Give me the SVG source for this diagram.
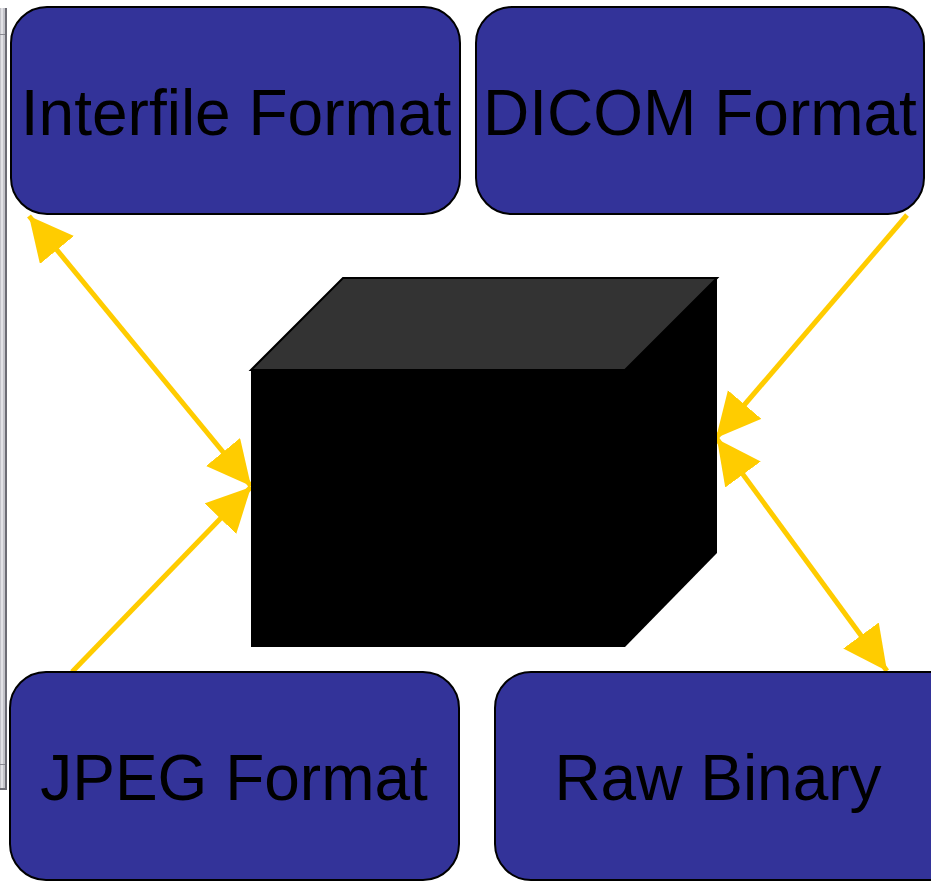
<svg xmlns="http://www.w3.org/2000/svg" width="931" height="882" viewBox="0 0 931 882">
  <style>
    .box { fill: #333399; stroke: #000000; stroke-width: 2; }
    .label { font-family: "Liberation Sans", Arial, sans-serif; font-size: 64px; fill: #000000; text-anchor: middle; }
    .link { stroke: #FFCC00; stroke-width: 5; fill: none; }
  </style>
  <defs>
    <marker id="head" markerUnits="userSpaceOnUse" markerWidth="46" markerHeight="46" refX="44" refY="22" orient="auto-start-reverse">
      <path d="M0,0 L44,22 L0,44 Z" fill="#FFCC00"/>
    </marker>
  </defs>

  <rect width="931" height="882" fill="#ffffff"/>

  <!-- window frame strip on the left edge -->
  <g id="frame">
    <rect x="0" y="8" width="7" height="782" fill="#c4c4ca"/>
    <rect x="1" y="8" width="2" height="782" fill="#e2e2e6"/>
    <rect x="5" y="8" width="2" height="782" fill="#6c6c74"/>
    <rect x="0" y="34" width="5" height="1" fill="#8a8a92"/>
    <rect x="0" y="764" width="5" height="1" fill="#8a8a92"/>
    <rect x="0" y="788" width="7" height="2" fill="#6c6c74"/>
  </g>

  <!-- connectors -->
  <g id="connectors">
    <line class="link" x1="29" y1="216" x2="251" y2="486" marker-start="url(#head)" marker-end="url(#head)"/>
    <line class="link" x1="72" y1="672" x2="251" y2="487" marker-end="url(#head)"/>
    <line class="link" x1="907" y1="215" x2="716" y2="438" marker-end="url(#head)"/>
    <line class="link" x1="717" y1="439" x2="887" y2="671" marker-start="url(#head)" marker-end="url(#head)"/>
  </g>

  <g id="interfile">
    <rect class="box" x="11" y="7" width="449" height="207" rx="36" ry="36"/>
    <text class="label" x="236" y="135">Interfile Format</text>
  </g>

  <g id="dicom">
    <rect class="box" x="476" y="7" width="448" height="207" rx="36" ry="36"/>
    <text class="label" x="700" y="135">DICOM Format</text>
  </g>

  <g id="jpeg">
    <rect class="box" x="10" y="672" width="449" height="208" rx="36" ry="36"/>
    <text class="label" x="234" y="800">JPEG Format</text>
  </g>

  <g id="raw">
    <rect class="box" x="495" y="672" width="470" height="208" rx="36" ry="36"/>
    <text class="label" x="718" y="800">Raw Binary</text>
  </g>

  <!-- central block -->
  <g id="cube">
    <polygon points="625,370 717,278 717,553 625,647" fill="#000000"/>
    <rect x="251" y="370" width="374" height="277" fill="#000000"/>
    <polygon points="251,370 343,278 717,278 625,370" fill="#333333" stroke="#000000" stroke-width="2" stroke-linejoin="miter"/>
  </g>
</svg>
